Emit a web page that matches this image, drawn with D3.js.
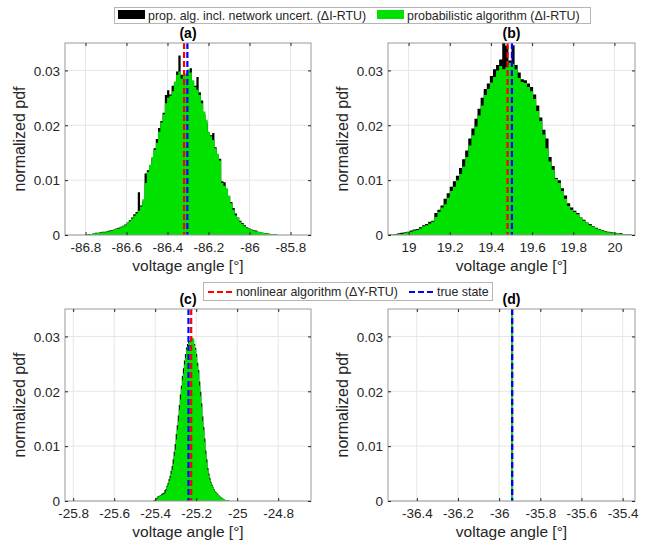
<!DOCTYPE html>
<html>
<head>
<meta charset="utf-8">
<script src="https://cdn.jsdelivr.net/npm/d3@7/dist/d3.min.js"></script>
<style>
  html, body { margin: 0; padding: 0; background: #fff; }
  svg { display: block; }
</style>
</head>
<body>
<script>
// ---------------- DATA ----------------
const panelTitles = ["(a)", "(b)", "(c)", "(d)"];
const legendTop = ["prop. alg. incl. network uncert. (\u0394I-RTU)", "probabilistic algorithm (\u0394I-RTU)"];
const legendBottom = ["nonlinear algorithm (\u0394Y-RTU)", "true state"];
const xLabel = "voltage angle [\u00b0]";
const yLabel = "normalized pdf";

const yLimits = [0, 0.035];
const yTicks = [0, 0.01, 0.02, 0.03];

// x limits and ticks
const xLimA = [-86.9, -85.7];
const xTicksA = [-86.8, -86.6, -86.4, -86.2, -86, -85.8];
const xLimB = [18.9, 20.1];
const xTicksB = [19, 19.2, 19.4, 19.6, 19.8, 20];
const xLimC = [-25.84, -24.64];
const xTicksC = [-25.8, -25.6, -25.4, -25.2, -25, -24.8];
const xLimD = [-36.54, -35.34];
const xTicksD = [-36.4, -36.2, -36, -35.8, -35.6, -35.4];

// histogram bins (first edge, width); heights in units of 0.001
const binStartA = -86.82, binWidthA = 0.011;
const greenA = [0,0,0.1,0.1,0.2,0.3,0.3,0.4,0.4,0.5,0.5,0.6,0.7,0.8,0.9,1.1,1.2,1.4,1.6,1.8,
  2.2,2.5,3.0,3.5,3.9,4.4,5.2,6.5,9.5,11.5,12.8,14.2,15.5,16.8,18.8,20.5,22.0,24.0,25.0,25.4,
  26.2,28.0,29.2,29.8,28.5,29.0,29.5,30.2,29.6,28.2,27.0,26.5,25.5,24.0,22.5,21.0,18.8,18.0,17.3,15.8,
  14.8,13.6,9.5,9.0,8.5,7.2,5.8,4.6,3.6,3.1,2.4,2.0,1.6,1.3,1.1,0.9,0.8,0.7,0.6,0.5,
  0.4,0.3,0.3,0.2,0.2,0.15,0.1,0];
const blackA = [0,0,0.1,0.2,0.2,0.3,0.4,0.4,0.5,0.6,0.6,0.7,0.8,0.9,1.0,1.2,1.3,1.5,1.7,1.9,
  2.3,2.7,3.2,3.8,4.2,7.8,5.4,6.2,11.2,11.8,12.6,14.0,15.8,17.5,19.5,20.8,22.3,25.5,26.4,25.6,
  27.2,27.5,29.8,32.7,29.2,28.5,29.0,30.0,30.4,28.0,27.2,28.8,26.0,24.5,22.0,20.5,18.6,18.2,18.6,16.0,
  14.5,13.9,9.8,9.6,8.2,7.0,6.0,4.9,3.9,3.2,2.6,2.2,1.8,1.4,1.2,1.0,0.9,0.8,0.6,0.5,
  0.4,0.35,0.3,0.25,0.2,0.15,0.1,0];

const binStartB = 18.9, binWidthB = 0.015;
const greenB = [0.1,0.1,0.1,0.2,0.2,0.4,0.5,0.6,0.8,0.9,1.2,1.6,1.8,2.1,2.4,3.3,4.2,5.0,5.6,6.8,
  8.0,8.8,10.0,11.1,12.5,14.2,16.3,18.2,19.8,21.8,23.6,25.5,26.6,27.8,28.8,30.0,30.8,30.2,30.6,31.4,
  31.2,30.2,28.6,27.9,27.7,27.0,26.2,24.8,22.6,20.8,18.3,15.8,13.4,11.9,10.2,9.5,8.0,6.6,5.3,4.6,
  4.2,3.8,3.1,2.6,2.2,1.8,1.5,1.2,1.0,0.8,0.6,0.5,0.4,0.4,0.3,0.2,0.2,0.1,0.1,0];
const blackB = [0.1,0.1,0.2,0.3,0.4,0.5,0.6,0.8,1.0,1.1,1.4,1.8,2.0,2.4,2.6,4.0,4.6,5.4,6.6,7.6,
  8.8,9.8,10.8,12.2,13.8,15.4,17.6,19.4,21.2,23.0,25.0,26.6,27.6,29.0,30.2,31.0,32.0,36.0,34.5,31.8,
  34.6,31.0,29.6,28.4,28.2,27.6,27.0,25.6,23.6,21.4,19.2,17.6,14.2,12.6,10.4,10.0,8.5,7.2,5.8,5.0,
  4.4,4.0,3.2,2.8,2.3,2.0,1.6,1.3,1.1,0.9,0.7,0.6,0.5,0.4,0.3,0.3,0.2,0.1,0.1,0];

const binStartC = -25.41, binWidthC = 0.005;
const greenC = [0,0.1,0.2,0.4,0.7,0.8,0.9,1.0,1.1,1.2,1.3,1.4,1.9,2.5,3.0,3.6,4.1,4.9,5.7,6.8,
  8.2,9.3,11.2,13.0,14.6,16.6,18.5,20.4,22.0,23.3,24.9,26.0,27.6,28.2,28.8,29.2,29.5,29.4,29.8,29.6,
  28.4,27.6,26.3,24.6,23.4,21.0,19.2,17.2,14.6,12.9,10.8,8.6,7.0,5.6,4.7,3.9,3.3,2.8,2.5,2.1,
  1.7,1.5,1.3,1.1,1.0,0.8,0.6,0.5,0.4,0.3,0.2,0.2,0.1,0.1,0.05,0];
const blackC = [0.1,0.2,0.4,0.6,0.8,0.9,1.0,1.1,1.3,1.4,1.5,2.0,2.2,2.8,3.3,4.0,4.6,5.5,6.4,7.6,
  9.0,10.4,12.2,13.8,15.6,17.5,19.4,21.0,22.8,24.2,25.6,26.8,28.0,28.6,29.0,29.0,29.3,29.2,29.6,29.4,
  28.6,27.9,26.8,25.2,23.9,21.8,19.9,17.8,15.4,13.5,11.4,9.2,7.6,6.0,5.0,4.2,3.5,3.0,2.6,2.2,
  1.8,1.6,1.4,1.2,1.0,0.8,0.7,0.5,0.4,0.3,0.2,0.2,0.1,0.1,0.05,0];

const binStartD = -35.9425, binWidthD = 0.0025;
const greenD = [40, 260, 260, 40];
const blackD = [50, 250, 250, 50];

// vertical reference lines: [nonlinear algorithm, true state]
const refLinesA = [-86.319, -86.303];
const refLinesB = [19.481, 19.502];
const refLinesC = [-25.2244, -25.2376];
const refLinesD = [-35.937, -35.937];

// ---------------- DRAWING ----------------
const FONT = "'Liberation Sans', Arial, Helvetica, sans-serif";
const TXT = "#262626";
const GREEN = "#00e100";
const W = 662, H = 547;

const svg = d3.select("body").append("svg").attr("width", W).attr("height", H)
  .style("font-family", FONT);
svg.append("rect").attr("width", W).attr("height", H).attr("fill", "#fff");

function toBins(start, width, vals) {
  return vals.map((v, i) => ({ x0: start + i * width, x1: start + (i + 1) * width, v: v / 1000 }));
}

const panels = [
  { id: "a", title: panelTitles[0], left: 65, top: 43, w: 246, h: 192, xlim: xLimA, xticks: xTicksA,
    green: toBins(binStartA, binWidthA, greenA), black: toBins(binStartA, binWidthA, blackA), ref: refLinesA },
  { id: "b", title: panelTitles[1], left: 388, top: 43, w: 247, h: 192, xlim: xLimB, xticks: xTicksB,
    green: toBins(binStartB, binWidthB, greenB), black: toBins(binStartB, binWidthB, blackB), ref: refLinesB },
  { id: "c", title: panelTitles[2], left: 65, top: 309, w: 246, h: 192, xlim: xLimC, xticks: xTicksC,
    green: toBins(binStartC, binWidthC, greenC), black: toBins(binStartC, binWidthC, blackC), ref: refLinesC },
  { id: "d", title: panelTitles[3], left: 388, top: 309, w: 247, h: 192, xlim: xLimD, xticks: xTicksD,
    green: toBins(binStartD, binWidthD, greenD), black: toBins(binStartD, binWidthD, blackD), ref: refLinesD },
];

const fmt = d => String(+d.toFixed(4));

panels.forEach(p => {
  const g = svg.append("g").attr("transform", `translate(${p.left},${p.top})`);
  const x = d3.scaleLinear().domain(p.xlim).range([0, p.w]);
  const y = d3.scaleLinear().domain(yLimits).range([p.h, 0]);

  // grid
  g.append("g").selectAll("line").data(p.xticks).join("line")
    .attr("x1", d => x(d)).attr("x2", d => x(d)).attr("y1", 0).attr("y2", p.h)
    .attr("stroke", "#e6e6e6").attr("stroke-width", 1);
  g.append("g").selectAll("line").data(yTicks).join("line")
    .attr("y1", d => y(d)).attr("y2", d => y(d)).attr("x1", 0).attr("x2", p.w)
    .attr("stroke", "#e6e6e6").attr("stroke-width", 1);

  // clip
  const cid = "clip-" + p.id;
  svg.append("clipPath").attr("id", cid).append("rect").attr("width", p.w).attr("height", p.h);
  const hg = g.append("g").attr("clip-path", `url(#${cid})`);

  // histograms as stepped areas (one path per series, no seams)
  const area = d3.area()
    .x(d => x(d.x)).y0(y(0)).y1(d => y(d.v))
    .curve(d3.curveStepAfter);
  const stepPts = bins => {
    const pts = bins.map(b => ({ x: b.x0, v: b.v }));
    const last = bins[bins.length - 1];
    pts.push({ x: last.x1, v: last.v });
    return pts;
  };
  hg.append("path").datum(stepPts(p.black)).attr("d", area).attr("fill", "#000");
  hg.append("path").datum(stepPts(p.green)).attr("d", area).attr("fill", GREEN);

  // reference lines
  const lineCols = ["#ff0000", "#0000ff"];
  p.ref.forEach((v, i) => {
    hg.append("line").attr("x1", x(v)).attr("x2", x(v)).attr("y1", y(yLimits[1])).attr("y2", y(0))
      .attr("stroke", lineCols[i]).attr("stroke-width", 2.2).attr("stroke-dasharray", "6,3");
  });

  // box
  g.append("rect").attr("width", p.w).attr("height", p.h).attr("fill", "none")
    .attr("stroke", "#9a9a9a").attr("stroke-width", 1);

  // axes with inward ticks
  const ax = g.append("g").attr("transform", `translate(0,${p.h})`)
    .call(d3.axisBottom(x).tickValues(p.xticks).tickSize(-3).tickPadding(0).tickFormat(fmt));
  ax.select(".domain").remove();
  ax.selectAll("line").attr("stroke", TXT);
  ax.selectAll("text").attr("y", 17).attr("dy", 0).attr("fill", TXT)
    .style("font-size", "13.5px").style("font-family", FONT);

  const axT = g.append("g").call(d3.axisTop(x).tickValues(p.xticks).tickSize(-3).tickFormat(""));
  axT.select(".domain").remove();
  axT.selectAll("line").attr("stroke", TXT);

  const ay = g.append("g")
    .call(d3.axisLeft(y).tickValues(yTicks).tickSize(-3).tickFormat(fmt));
  ay.select(".domain").remove();
  ay.selectAll("line").attr("stroke", TXT);
  ay.selectAll("text").attr("x", -5).attr("dy", "0.35em").attr("fill", TXT)
    .style("font-size", "13.5px").style("font-family", FONT);

  const ayR = g.append("g").attr("transform", `translate(${p.w},0)`)
    .call(d3.axisRight(y).tickValues(yTicks).tickSize(-3).tickFormat(""));
  ayR.select(".domain").remove();
  ayR.selectAll("line").attr("stroke", TXT);

  // labels
  g.append("text").attr("x", p.w / 2).attr("y", p.h + 36).attr("text-anchor", "middle")
    .attr("fill", TXT).style("font-size", "15.5px").text(xLabel);
  g.append("text").attr("transform", `translate(${-40},${p.h / 2}) rotate(-90)`)
    .attr("text-anchor", "middle").attr("fill", TXT).style("font-size", "16px").text(yLabel);
  g.append("text").attr("x", p.w / 2).attr("y", -5).attr("text-anchor", "middle")
    .attr("fill", "#000").style("font-size", "14px").style("font-weight", "bold").text(p.title);
});

// top legend
const lg1 = svg.append("g");
lg1.append("rect").attr("x", 114.5).attr("y", 7.5).attr("width", 476).attr("height", 16)
  .attr("fill", "#fff").attr("stroke", "#b5b5b5");
lg1.append("rect").attr("x", 118).attr("y", 10).attr("width", 27).attr("height", 9).attr("fill", "#000");
lg1.append("text").attr("x", 148).attr("y", 19.5).attr("fill", TXT).style("font-size", "12.4px").text(legendTop[0]);
lg1.append("rect").attr("x", 377).attr("y", 10).attr("width", 27).attr("height", 9).attr("fill", GREEN);
lg1.append("text").attr("x", 407).attr("y", 19.5).attr("fill", TXT).style("font-size", "12.4px").text(legendTop[1]);

// bottom legend
const lg2 = svg.append("g");
lg2.append("rect").attr("x", 203.5).attr("y", 282.5).attr("width", 289).attr("height", 18)
  .attr("fill", "#fff").attr("stroke", "#b5b5b5");
lg2.append("line").attr("x1", 208).attr("x2", 232).attr("y1", 292).attr("y2", 292)
  .attr("stroke", "#ff0000").attr("stroke-width", 2.2).attr("stroke-dasharray", "6,3");
lg2.append("text").attr("x", 236).attr("y", 296).attr("fill", TXT).style("font-size", "12.4px").text(legendBottom[0]);
lg2.append("line").attr("x1", 409).attr("x2", 433).attr("y1", 292).attr("y2", 292)
  .attr("stroke", "#0000ff").attr("stroke-width", 2.2).attr("stroke-dasharray", "6,3");
lg2.append("text").attr("x", 437).attr("y", 296).attr("fill", TXT).style("font-size", "12.4px").text(legendBottom[1]);
</script>
</body>
</html>
